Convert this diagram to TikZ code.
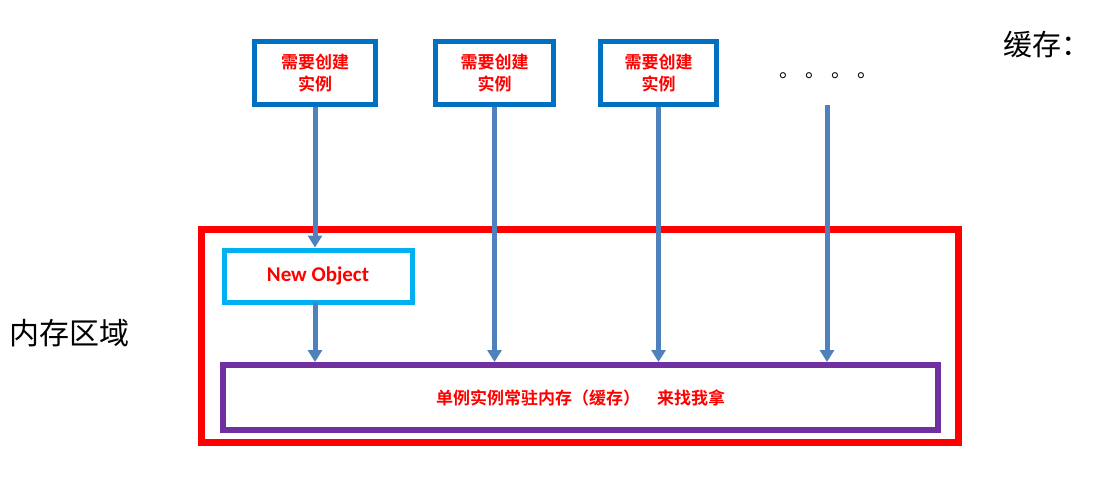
\documentclass[tikz,border=0pt]{standalone}
\usepackage{fontspec}
\newfontfamily\cjk{Noto Sans CJK SC}
\newfontfamily\cjkb{Noto Sans CJK SC Bold}
\setmainfont{Carlito}
\usetikzlibrary{arrows.meta}
\definecolor{bblue}{HTML}{0070C0}
\definecolor{lblue}{HTML}{00B0F0}
\definecolor{ablue}{HTML}{4F81BD}
\definecolor{purp}{HTML}{7030A0}
\begin{document}
\begin{tikzpicture}[x=1pt,y=-1pt,
  req/.style={draw=bblue,line width=5pt,minimum width=121pt,minimum height=63pt,inner sep=0pt,text=red,font=\cjkb\fontsize{17}{22}\selectfont,align=center},
  arr/.style={draw=ablue,line width=5pt,-{Triangle[length=12pt,width=14pt]}}]
\useasboundingbox (0,0) rectangle (1104,479);
\node[req] (b1) at (315,73) {需要创建\\实例};
\node[req,minimum width=118pt] (b2) at (494.5,73) {需要创建\\实例};
\node[req,minimum width=116pt] (b3) at (658.5,73) {需要创建\\实例};
\node[font=\cjk\fontsize{20}{24}\selectfont] (dots) at (828,76) {。\hspace{6pt}。\hspace{6pt}。\hspace{6pt}。};
\coordinate (d4) at (827,105);
\node[anchor=west,font=\cjk\fontsize{29}{34}\selectfont] (cache) at (1000,45) {缓存：};
\node[anchor=west,font=\cjk\fontsize{30}{36}\selectfont] (mem) at (6,333) {内存区域};
\node[draw=red,line width=7pt,minimum width=757pt,minimum height=213pt,inner sep=0pt] (reg) at (579.5,335.5) {};
\node[draw=lblue,line width=5pt,minimum width=188pt,minimum height=52pt,inner sep=0pt,text=red,font=\bfseries\fontsize{21}{25}\selectfont] (new) at (318,276) {New Object};
\node[draw=purp,line width=6pt,minimum width=715pt,minimum height=65pt,inner sep=0pt,text=red,font=\cjkb\fontsize{17}{22}\selectfont] (single) at (580.5,397.5) {单例实例常驻内存（缓存）\hspace{1em}来找我拿};
\draw[arr] (b1.south) -- (new.north -| b1.south);
\draw[arr] ([yshift=3pt]new.south -| b1.south) -- (single.north -| b1.south);
\draw[arr] (b2.south) -- (single.north -| b2.south);
\draw[arr] (b3.south) -- (single.north -| b3.south);
\draw[arr] (d4) -- (single.north -| d4);
\end{tikzpicture}
\end{document}
